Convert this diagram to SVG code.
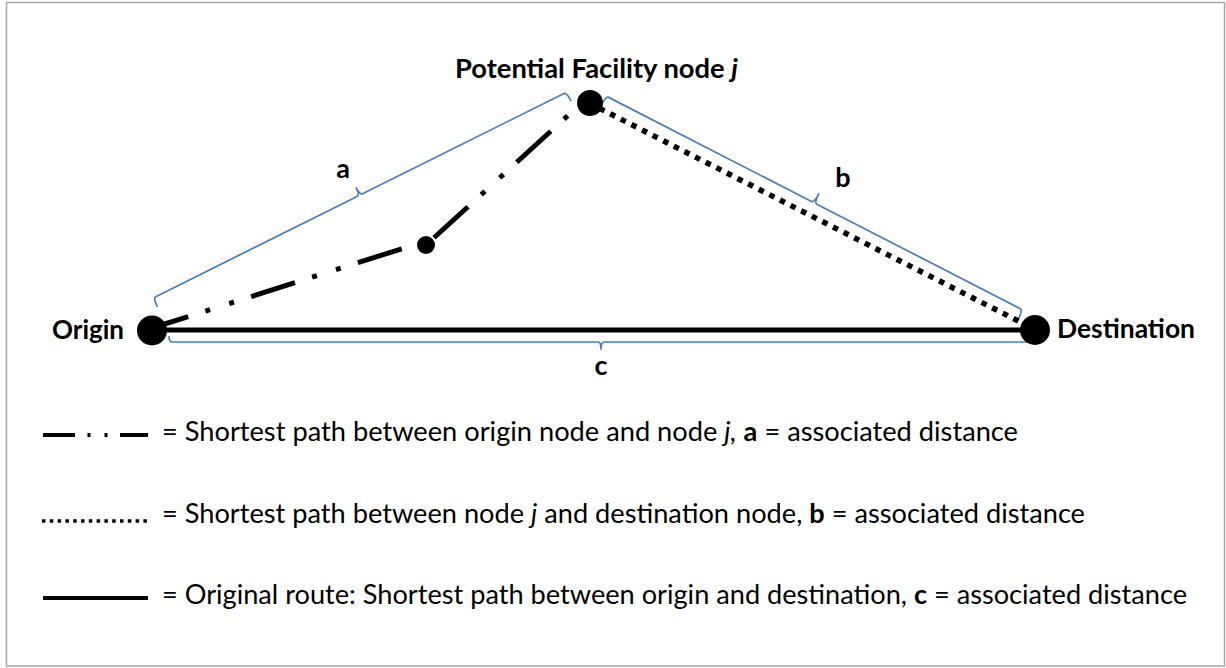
<svg xmlns="http://www.w3.org/2000/svg" width="1226" height="668" viewBox="0 0 1226 668">
<style>
text{font-family:Lato,"Open Sans","Liberation Sans",sans-serif;fill:#000}
.lbl{font-size:27px;font-weight:bold}
.leg{font-size:27px}
.b{font-weight:bold}
.i{font-style:italic}
.brace{fill:none;stroke:#4a7ebb;stroke-width:1.7;stroke-linejoin:round}
.node{fill:#000}
.dashdot{fill:none;stroke:#000;stroke-width:5;stroke-dasharray:46 18 5 20 5 18}
.dotted{fill:none;stroke:#000;stroke-width:5.5;stroke-dasharray:5.5 6.4}
.solid{fill:none;stroke:#000;stroke-width:5}
</style>
<rect x="6.5" y="2.5" width="1218" height="663.5" fill="#fff" stroke="#a6a6a6" stroke-width="1.5"/>

<g id="braces">
  <path id="brace-a" class="brace" transform="translate(153,298) rotate(-26.45)" d="M0,10 Q0,0 3,0 H228 Q231,0 231,-8 Q231,0 234,0 H459 Q462,0 462,10"/>
  <path id="brace-b" class="brace" transform="translate(606,96) rotate(27.17)" d="M0,11 Q0,0 3,0 H231 Q234,0 234,-10 Q234,0 237,0 H465.7 Q468.7,0 468.7,11"/>
  <path id="brace-c" class="brace" transform="translate(1033,342) rotate(180)" d="M0,6 Q0,0 3,0 H429 Q432,0 432,-7 Q432,0 435,0 H861 Q864,0 864,6"/>
</g>

<g id="connectors">
  <line id="route-c" class="solid" x1="152" y1="330" x2="1036" y2="330"/>
  <line id="path-a1" class="dashdot" x1="152" y1="328" x2="420" y2="243" stroke-dashoffset="8"/>
  <line id="path-a2" class="dashdot" x1="426" y1="245" x2="585" y2="100" stroke-dashoffset="-10.8"/>
  <line id="path-b" class="dotted" x1="589" y1="103" x2="1036" y2="330"/>
</g>

<g id="node-origin">
  <circle class="node" cx="152" cy="330.5" r="15"/>
  <text class="lbl" x="52" y="339" textLength="72" lengthAdjust="spacingAndGlyphs">Origin</text>
</g>
<g id="node-facility">
  <circle class="node" cx="590" cy="103" r="13"/>
  <text class="lbl" x="455" y="78" textLength="283" lengthAdjust="spacingAndGlyphs">Potential Facility node <tspan class="i">j</tspan></text>
</g>
<g id="node-destination">
  <circle class="node" cx="1035" cy="330" r="15"/>
  <text class="lbl" x="1057" y="338" textLength="138" lengthAdjust="spacingAndGlyphs">Destination</text>
</g>
<g id="node-intermediate">
  <circle class="node" cx="426" cy="245" r="9"/>
</g>

<g id="distance-labels">
  <text class="lbl" x="343" y="178" text-anchor="middle">a</text>
  <text class="lbl" x="843" y="187" text-anchor="middle">b</text>
  <text class="lbl" x="601" y="375" text-anchor="middle">c</text>
</g>

<g id="legend">
  <line x1="43" y1="435" x2="148" y2="435" stroke="#000" stroke-width="4" stroke-dasharray="32 12.5 3 14 3 12.5 28 100"/>
  <text class="leg" x="162" y="441" textLength="856" lengthAdjust="spacingAndGlyphs">= Shortest path between origin node and node <tspan class="i">j,</tspan> <tspan class="b">a</tspan> = associated distance</text>
  <line x1="42" y1="521" x2="147" y2="521" stroke="#000" stroke-width="3.5" stroke-dasharray="3.5 4.3"/>
  <text class="leg" x="162" y="523" textLength="923" lengthAdjust="spacingAndGlyphs">= Shortest path between node <tspan class="i">j</tspan> and destination node, <tspan class="b">b</tspan> = associated distance</text>
  <line x1="43" y1="598" x2="148" y2="598" stroke="#000" stroke-width="4"/>
  <text class="leg" x="162" y="604" textLength="1025" lengthAdjust="spacingAndGlyphs">= Original route: Shortest path between origin and destination, <tspan class="b">c</tspan> = associated distance</text>
</g>
</svg>
